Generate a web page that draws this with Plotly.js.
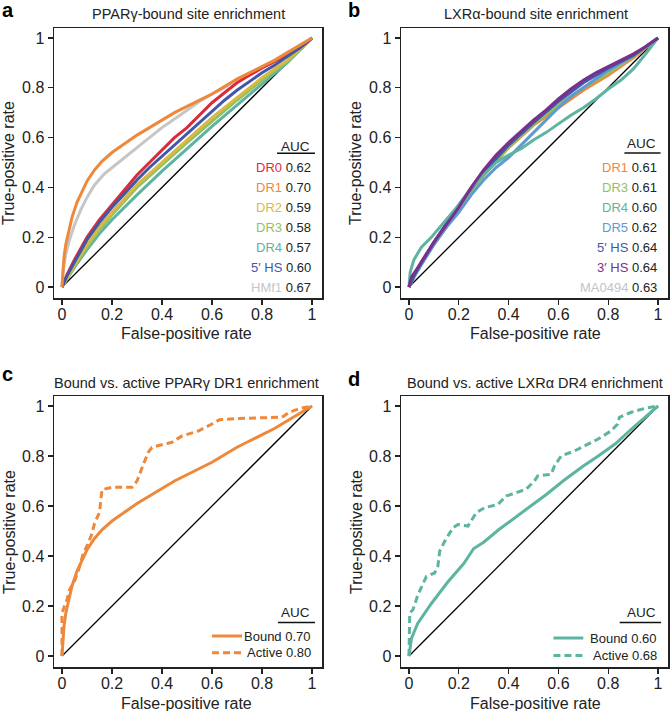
<!DOCTYPE html>
<html>
<head>
<meta charset="utf-8">
<script src="https://cdn.plot.ly/plotly-3.0.1.min.js"></script>
<style>
  body { margin: 0; background: #fff; }
  #plot { width: 671px; height: 711px; }
</style>
</head>
<body>
<div id="plot"></div>
<script>
// ROC curves (false-positive rate vs true-positive rate)

// panel a: PPARg-bound sites
const aDR0x = [0, 0.02, 0.05, 0.1, 0.15, 0.2, 0.25, 0.3, 0.35, 0.4, 0.45, 0.5, 0.55, 0.6, 0.65, 0.7, 0.75, 0.8, 0.85, 0.9, 0.95, 1];
const aDR0y = [0, 0.05, 0.11, 0.2, 0.27, 0.33, 0.39, 0.45, 0.5, 0.55, 0.6, 0.64, 0.69, 0.74, 0.78, 0.82, 0.85, 0.88, 0.905, 0.93, 0.96, 1];
const aDR1x = [0, 0.003, 0.008, 0.015, 0.025, 0.04, 0.06, 0.08, 0.1, 0.13, 0.16, 0.2, 0.25, 0.3, 0.35, 0.4, 0.45, 0.5, 0.55, 0.6, 0.65, 0.7, 0.75, 0.8, 0.85, 0.9, 0.95, 1];
const aDR1y = [0, 0.06, 0.12, 0.17, 0.22, 0.28, 0.34, 0.385, 0.425, 0.47, 0.505, 0.54, 0.575, 0.61, 0.64, 0.67, 0.7, 0.725, 0.75, 0.775, 0.805, 0.835, 0.86, 0.885, 0.91, 0.94, 0.97, 1];
const aDR2x = [0, 0.05, 0.1, 0.15, 0.2, 0.25, 0.3, 0.35, 0.4, 0.45, 0.5, 0.55, 0.6, 0.65, 0.7, 0.75, 0.8, 0.85, 0.9, 0.95, 1];
const aDR2y = [0, 0.09, 0.17, 0.24, 0.3, 0.355, 0.41, 0.455, 0.5, 0.545, 0.59, 0.635, 0.68, 0.72, 0.76, 0.8, 0.84, 0.875, 0.91, 0.955, 1];
const aDR3x = [0, 0.05, 0.1, 0.15, 0.2, 0.3, 0.4, 0.5, 0.6, 0.7, 0.8, 0.9, 0.95, 1];
const aDR3y = [0, 0.085, 0.16, 0.23, 0.29, 0.4, 0.49, 0.58, 0.665, 0.75, 0.83, 0.905, 0.95, 1];
const aDR4x = [0, 0.05, 0.1, 0.15, 0.2, 0.3, 0.4, 0.5, 0.6, 0.7, 0.8, 0.9, 0.95, 1];
const aDR4y = [0, 0.08, 0.15, 0.215, 0.27, 0.37, 0.465, 0.555, 0.645, 0.73, 0.815, 0.9, 0.95, 1];
const aHSx = [0, 0.02, 0.05, 0.1, 0.15, 0.2, 0.25, 0.3, 0.35, 0.4, 0.45, 0.5, 0.55, 0.6, 0.65, 0.7, 0.75, 0.8, 0.85, 0.9, 0.95, 1];
const aHSy = [0, 0.045, 0.1, 0.19, 0.26, 0.32, 0.375, 0.43, 0.48, 0.525, 0.57, 0.615, 0.66, 0.705, 0.75, 0.79, 0.825, 0.86, 0.89, 0.925, 0.96, 1];
const aHMx = [0, 0.005, 0.015, 0.03, 0.05, 0.075, 0.1, 0.13, 0.17, 0.2, 0.25, 0.3, 0.35, 0.4, 0.45, 0.5, 0.55, 0.6, 0.65, 0.7, 0.75, 0.8, 0.85, 0.9, 0.95, 1];
const aHMy = [0, 0.07, 0.13, 0.19, 0.25, 0.31, 0.36, 0.41, 0.455, 0.48, 0.52, 0.56, 0.6, 0.64, 0.675, 0.71, 0.745, 0.775, 0.8, 0.835, 0.86, 0.885, 0.91, 0.94, 0.97, 1];

// panel b: LXRa-bound sites
const bDR1x = [0, 0.02, 0.05, 0.1, 0.2, 0.3, 0.4, 0.5, 0.6, 0.7, 0.8, 0.9, 1];
const bDR1y = [0, 0.045, 0.1, 0.18, 0.32, 0.45, 0.56, 0.65, 0.72, 0.79, 0.85, 0.92, 1];
const bDR3x = [0, 0.02, 0.05, 0.1, 0.2, 0.3, 0.4, 0.5, 0.6, 0.7, 0.8, 0.9, 1];
const bDR3y = [0, 0.04, 0.095, 0.17, 0.31, 0.45, 0.56, 0.655, 0.73, 0.8, 0.86, 0.925, 1];
const bDR4x = [0, 0.005, 0.02, 0.05, 0.09, 0.15, 0.2, 0.25, 0.3, 0.35, 0.4, 0.45, 0.5, 0.55, 0.6, 0.65, 0.7, 0.75, 0.8, 0.85, 0.9, 0.95, 1];
const bDR4y = [0, 0.06, 0.11, 0.16, 0.2, 0.27, 0.33, 0.4, 0.45, 0.5, 0.53, 0.555, 0.59, 0.62, 0.655, 0.69, 0.72, 0.755, 0.795, 0.83, 0.875, 0.935, 1];
const bDR5x = [0, 0.02, 0.05, 0.1, 0.15, 0.2, 0.25, 0.3, 0.35, 0.4, 0.45, 0.5, 0.55, 0.6, 0.65, 0.7, 0.75, 0.8, 0.85, 0.9, 0.95, 1];
const bDR5y = [0, 0.04, 0.09, 0.17, 0.24, 0.3, 0.37, 0.43, 0.48, 0.52, 0.57, 0.62, 0.67, 0.72, 0.765, 0.8, 0.835, 0.87, 0.9, 0.93, 0.965, 1];
const b5HSx = [0, 0.02, 0.05, 0.1, 0.2, 0.3, 0.4, 0.5, 0.6, 0.7, 0.8, 0.9, 1];
const b5HSy = [0, 0.045, 0.1, 0.18, 0.33, 0.46, 0.57, 0.66, 0.745, 0.82, 0.88, 0.93, 1];
const b3HSx = [0, 0.01, 0.05, 0.1, 0.15, 0.2, 0.25, 0.3, 0.35, 0.4, 0.45, 0.5, 0.55, 0.6, 0.65, 0.7, 0.75, 0.8, 0.85, 0.9, 0.95, 1];
const b3HSy = [0, 0.04, 0.1, 0.18, 0.25, 0.32, 0.4, 0.47, 0.53, 0.58, 0.625, 0.67, 0.71, 0.755, 0.795, 0.83, 0.86, 0.885, 0.91, 0.935, 0.965, 1];
const bMAx = [0, 0.02, 0.05, 0.1, 0.2, 0.3, 0.4, 0.5, 0.6, 0.7, 0.8, 0.9, 1];
const bMAy = [0, 0.045, 0.1, 0.18, 0.32, 0.45, 0.56, 0.65, 0.73, 0.8, 0.86, 0.92, 1];

// panel c: PPARg DR1, active sites (bound = aDR1)
const cActx = [0, 0, 0.01, 0.02, 0.03, 0.05, 0.065, 0.085, 0.1, 0.12, 0.13, 0.15, 0.16, 0.2, 0.28, 0.3, 0.325, 0.345, 0.36, 0.44, 0.48, 0.545, 0.6, 0.63, 0.7, 0.8, 0.88, 0.91, 0.95, 1];
const cActy = [0, 0.17, 0.2, 0.225, 0.265, 0.3, 0.34, 0.41, 0.44, 0.49, 0.53, 0.575, 0.665, 0.675, 0.675, 0.7, 0.765, 0.815, 0.835, 0.855, 0.88, 0.9, 0.928, 0.945, 0.95, 0.953, 0.955, 0.975, 0.99, 1];

// panel d: LXRa DR4, bound and active sites
const dBndx = [0, 0.01, 0.035, 0.09, 0.155, 0.22, 0.26, 0.3, 0.36, 0.42, 0.49, 0.55, 0.625, 0.7, 0.76, 0.83, 0.89, 0.95, 1];
const dBndy = [0, 0.07, 0.13, 0.21, 0.295, 0.37, 0.43, 0.455, 0.505, 0.55, 0.6, 0.645, 0.705, 0.76, 0.8, 0.85, 0.905, 0.955, 1];
const dActx = [0, 0.003, 0.016, 0.036, 0.07, 0.103, 0.116, 0.123, 0.143, 0.176, 0.196, 0.237, 0.27, 0.303, 0.357, 0.39, 0.43, 0.47, 0.504, 0.517, 0.571, 0.584, 0.611, 0.664, 0.704, 0.758, 0.811, 0.838, 0.845, 0.892, 0.945, 1];
const dActy = [0, 0.172, 0.185, 0.245, 0.318, 0.332, 0.359, 0.418, 0.458, 0.512, 0.526, 0.52, 0.573, 0.593, 0.606, 0.64, 0.653, 0.667, 0.7, 0.72, 0.727, 0.76, 0.8, 0.82, 0.84, 0.867, 0.9, 0.928, 0.955, 0.975, 0.99, 1];

const diag = [0, 1];

const aNames = ["DR0", "DR1", "DR2", "DR3", "DR4", "5′ HS", "HMf1"];
const aAUC = ["0.62", "0.70", "0.59", "0.58", "0.57", "0.60", "0.67"];
const bNames = ["DR1", "DR3", "DR4", "DR5", "5′ HS", "3′ HS", "MA0494"];
const bAUC = ["0.61", "0.61", "0.60", "0.62", "0.64", "0.64", "0.63"];
const cNames = ["Bound", "Active"];
const cAUC = ["0.70", "0.80"];
const dAUC = ["0.60", "0.68"];

const ticks = [0, 0.2, 0.4, 0.6, 0.8, 1];
const tickText = ["0", "0.2", "0.4", "0.6", "0.8", "1"];

const colors = {
  DR0: "#DB2B39", DR1: "#EE883A", DR2: "#D9B944", DR3: "#93C15F", DR4: "#5DB4A0",
  HS5: "#4157A7", HMf1: "#C6C6C6", DR5: "#5C9BD3", HS3: "#7A2F8E", MA: "#C4C4C4"
};

const W = 671, H = 711;
const FONT = "Liberation Sans, Arial, sans-serif";
const LEG = 13;
function px(x) { return x / W; }
function py(y) { return 1 - y / H; }

function curve(x, y, color, ax, dash) {
  return {
    x: x, y: y, xaxis: "x" + ax, yaxis: "y" + ax, type: "scatter", mode: "lines",
    line: { color: color, width: 3, dash: dash || "solid" }, hoverinfo: "skip", showlegend: false
  };
}
function diagonal(ax) {
  return {
    x: diag, y: diag, xaxis: "x" + ax, yaxis: "y" + ax, type: "scatter", mode: "lines",
    line: { color: "#000", width: 1.3 }, hoverinfo: "skip", showlegend: false
  };
}

const data = [
  diagonal(""),
  curve(aDR4x, aDR4y, colors.DR4, ""),
  curve(aDR3x, aDR3y, colors.DR3, ""),
  curve(aDR2x, aDR2y, colors.DR2, ""),
  curve(aHMx, aHMy, colors.HMf1, ""),
  curve(aDR0x, aDR0y, colors.DR0, ""),
  curve(aHSx, aHSy, colors.HS5, ""),
  curve(aDR1x, aDR1y, colors.DR1, ""),

  diagonal("2"),
  curve(bMAx, bMAy, colors.MA, "2"),
  curve(bDR1x, bDR1y, colors.DR1, "2"),
  curve(bDR3x, bDR3y, colors.DR3, "2"),
  curve(bDR5x, bDR5y, colors.DR5, "2"),
  curve(b5HSx, b5HSy, colors.HS5, "2"),
  curve(bDR4x, bDR4y, colors.DR4, "2"),
  curve(b3HSx, b3HSy, colors.HS3, "2"),

  diagonal("3"),
  curve(aDR1x, aDR1y, colors.DR1, "3"),
  curve(cActx, cActy, colors.DR1, "3", "7px,4px"),

  diagonal("4"),
  curve(dBndx, dBndy, colors.DR4, "4"),
  curve(dActx, dActy, colors.DR4, "4", "7px,4px")
];

function xax(l, r, anchor) {
  return {
    domain: [px(l), px(r)], range: [-0.032, 1.04], anchor: anchor,
    tickvals: ticks, ticktext: tickText, ticks: "outside", ticklen: 5, tickwidth: 1.3,
    ticklabelstandoff: -4,
    tickcolor: "#222", showline: true, mirror: true, linecolor: "#222", linewidth: 1.5,
    showgrid: false, zeroline: false, tickfont: { size: 16, color: "#222" }, fixedrange: true
  };
}
function yax(t, b, anchor) {
  return {
    domain: [py(b), py(t)], range: [-0.044, 1.04], anchor: anchor,
    tickvals: ticks, ticktext: tickText, ticks: "outside", ticklen: 5, tickwidth: 1.3,
    tickcolor: "#222", showline: true, mirror: true, linecolor: "#222", linewidth: 1.5,
    showgrid: false, zeroline: false, tickfont: { size: 16, color: "#222" }, fixedrange: true
  };
}

const annotations = [];
const shapes = [];

function text(x, y, t, opts) {
  annotations.push(Object.assign({
    x: x, y: y, xref: "paper", yref: "paper", text: t, showarrow: false,
    font: { size: 16, color: "#222", family: FONT }
  }, opts || {}));
}

// panel letters, titles, axis titles
const panels = [
  { letter: "a", lx: 0, ly: -3, title: "PPARγ-bound site enrichment", tx: 188, ty: 14, cx: 187, xty: 333, yx: 9, yty: 163 },
  { letter: "b", lx: 346, ly: -3, title: "LXRα-bound site enrichment", tx: 536, ty: 14, cx: 535, xty: 333, yx: 356, yty: 163 },
  { letter: "c", lx: 0, ly: 361, title: "Bound vs. active PPARγ DR1 enrichment", tx: 186, ty: 383, cx: 187, xty: 703, yx: 9, yty: 532 },
  { letter: "d", lx: 346, ly: 366, title: "Bound vs. active LXRα DR4 enrichment", tx: 535, ty: 383, cx: 535, xty: 703, yx: 356, yty: 532 }
];
panels.forEach(function (p) {
  text(px(p.lx), py(p.ly), "<b>" + p.letter + "</b>", { xanchor: "left", yanchor: "top", font: { size: 20, color: "#000", family: FONT } });
  text(px(p.tx), py(p.ty), p.title, { xanchor: "center", yanchor: "middle", font: { size: 14.5, color: "#222", family: FONT } });
  text(px(p.cx), py(p.xty), "False-positive rate", { xanchor: "center", yanchor: "middle" });
  text(px(p.yx), py(p.yty), "True-positive rate", { xanchor: "center", yanchor: "middle", textangle: -90 });
});

// AUC tables in a and b
function aucTable(ax, names, aucs, cols, uy, ux0, ux1, ay) {
  annotations.push({ x: 1.0, y: ay, xref: "x" + ax, yref: "y" + ax, text: "AUC", showarrow: false,
    xanchor: "right", yanchor: "middle", font: { size: LEG + 0.5, color: "#222", family: FONT } });
  shapes.push({ type: "line", xref: "x" + ax, yref: "y" + ax, x0: ux0, x1: ux1, y0: uy, y1: uy, line: { color: "#111", width: 1.5 } });
  names.forEach(function (n, i) {
    annotations.push({
      x: 1.005, y: 0.48 - 0.08 * i, xref: "x" + ax, yref: "y" + ax, showarrow: false,
      xanchor: "right", yanchor: "middle",
      text: '<span style="color:' + cols[i] + '">' + n + "</span> " + aucs[i],
      font: { size: LEG, color: "#222", family: FONT }
    });
  });
}
aucTable("", aNames, aAUC, [colors.DR0, colors.DR1, colors.DR2, colors.DR3, colors.DR4, colors.HS5, colors.HMf1], 0.537, 0.86, 1.012, 0.566);
aucTable("2", bNames, bAUC, [colors.DR1, colors.DR3, colors.DR4, colors.DR5, colors.HS5, colors.HS3, colors.MA], 0.538, 0.865, 1.01, 0.576);

// bound/active legends in c and d
function boundActive(ax, aucs, color, sx0, sx1, ux0, rows) {
  annotations.push({ x: 1.0, y: 0.173, xref: "x" + ax, yref: "y" + ax, text: "AUC", showarrow: false,
    xanchor: "right", yanchor: "middle", font: { size: LEG + 0.5, color: "#222", family: FONT } });
  shapes.push({ type: "line", xref: "x" + ax, yref: "y" + ax, x0: ux0, x1: 1.012, y0: 0.134, y1: 0.134, line: { color: "#111", width: 1.5 } });
  cNames.forEach(function (n, i) {
    annotations.push({ x: 1.005, y: rows[i], xref: "x" + ax, yref: "y" + ax, showarrow: false,
      xanchor: "right", yanchor: "middle", text: n + " " + aucs[i], font: { size: LEG, color: "#222", family: FONT } });
    shapes.push({ type: "line", xref: "x" + ax, yref: "y" + ax, x0: sx0, x1: sx1, y0: rows[i], y1: rows[i],
      line: { color: color, width: 3, dash: i === 0 ? "solid" : "7px,4px" } });
  });
}
boundActive("3", cAUC, colors.DR1, 0.6, 0.72, 0.864, [0.08, 0.013]);
boundActive("4", dAUC, colors.DR4, 0.58, 0.70, 0.846, [0.072, 0.002]);

const layout = {
  width: W, height: H,
  margin: { l: 0, r: 0, t: 0, b: 0 },
  paper_bgcolor: "#fff", plot_bgcolor: "#fff",
  font: { family: FONT, color: "#222" },
  showlegend: false,
  xaxis: xax(54, 322, "y"), yaxis: yax(28, 298, "x"),
  xaxis2: xax(401, 668, "y2"), yaxis2: yax(28, 298, "x2"),
  xaxis3: xax(54, 322, "y3"), yaxis3: yax(396, 667, "x3"),
  xaxis4: xax(401, 668, "y4"), yaxis4: yax(396, 667, "x4"),
  annotations: annotations,
  shapes: shapes
};

Plotly.newPlot("plot", data, layout, { staticPlot: true, displayModeBar: false });
</script>
</body>
</html>
